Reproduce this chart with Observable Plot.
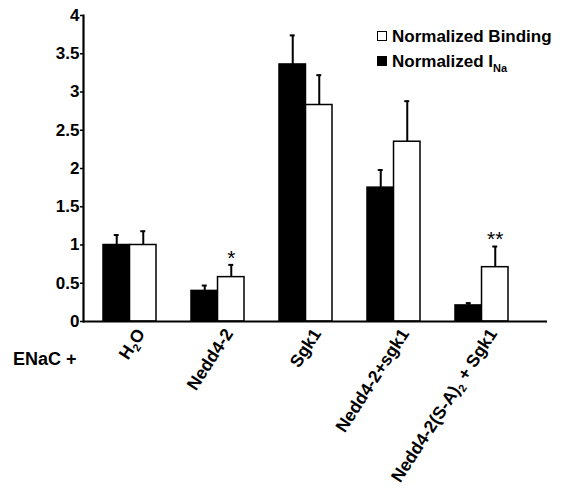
<!DOCTYPE html>
<html>
<head>
<meta charset="utf-8">
<script src="https://cdn.jsdelivr.net/npm/d3@7"></script>
<script src="https://cdn.jsdelivr.net/npm/@observablehq/plot@0.6"></script>
<style>
  body { margin: 0; background: #fff; }
  #wrap { position: relative; width: 568px; height: 494px; font-family: "Liberation Sans", Arial, Helvetica, sans-serif; font-weight: bold; color: #000; }
  #wrap svg { position: absolute; left: 0; top: 0; }
  .legend { position: absolute; left: 377px; top: 24px; font-size: 17px; line-height: 25px; }
  .legend .row { white-space: nowrap; }
  .legend .sw { display: inline-block; width: 8px; height: 8px; border: 1.5px solid #000; margin-right: 5px; vertical-align: 1px; }
  .legend .sub { font-size: 11px; position: relative; top: 5px; }
  .enac { position: absolute; left: 13px; top: 349px; font-size: 18px; white-space: nowrap; }
</style>
</head>
<body>
<div id="wrap">
  <div class="legend">
    <div class="row"><span class="sw" style="background:#fff"></span>Normalized Binding</div>
    <div class="row"><span class="sw" style="background:#000"></span>Normalized I<span class="sub">Na</span></div>
  </div>
  <div class="enac">ENaC +</div>
</div>
<script>
// ---- data ----
const categories = ["H2O", "Nedd4-2", "Sgk1", "Nedd4-2+sgk1", "Nedd4-2(S-A)2 + Sgk1"];
const currentValues = [1.00, 0.40, 3.36, 1.75, 0.21];   // Normalized I_Na (black)
const currentErrors = [0.13, 0.07, 0.38, 0.23, 0.03];
const bindingValues = [1.00, 0.58, 2.83, 2.35, 0.71];   // Normalized Binding (white)
const bindingErrors = [0.18, 0.16, 0.39, 0.53, 0.27];
const significance = ["", "*", "", "", "**"];
const yTicks = [0, 0.5, 1, 1.5, 2, 2.5, 3, 3.5, 4];

const current = categories.map((c, i) => ({cat: c, v: currentValues[i], e: currentErrors[i]}));
const binding = categories.map((c, i) => ({cat: c, v: bindingValues[i], e: bindingErrors[i], s: significance[i]}));

// ---- layout ----
const W = 568, H = 494;
const xRange = [84, 526];
const pInner = 0.4, pOuter = 0.2;
const band = d3.scaleBand().domain(categories).range(xRange).paddingInner(pInner).paddingOuter(pOuter);
const bw = band.bandwidth();
const half = bw / 2, q = bw / 4, cap = 2.5;

const font = '"Liberation Sans", Arial, Helvetica, sans-serif';

const chart = Plot.plot({
  width: W, height: H,
  marginLeft: 83, marginRight: 21, marginTop: 15, marginBottom: 173,
  style: {fontFamily: font, fontWeight: "bold", background: "transparent", overflow: "visible"},
  x: {domain: categories, range: xRange, paddingInner: pInner, paddingOuter: pOuter, label: null},
  y: {domain: [0, 4], label: null},
  marks: [
    // error bars
    Plot.ruleX(current, {x: "cat", y1: "v", y2: d => d.v + d.e, dx: -q, strokeWidth: 2}),
    Plot.tickY(current, {x: "cat", y: d => d.v + d.e, insetLeft: q - cap, insetRight: bw - q - cap, strokeWidth: 2}),
    Plot.ruleX(binding, {x: "cat", y1: "v", y2: d => d.v + d.e, dx: q, strokeWidth: 2}),
    Plot.tickY(binding, {x: "cat", y: d => d.v + d.e, insetLeft: half + q - cap, insetRight: q - cap, strokeWidth: 2}),
    // bars
    Plot.barY(current, {x: "cat", y: "v", insetRight: half, fill: "#000", stroke: "#000", strokeWidth: 1.5}),
    Plot.barY(binding, {x: "cat", y: "v", insetLeft: half, fill: "#fff", stroke: "#000", strokeWidth: 1.5}),
    // significance stars
    Plot.text(binding.filter(d => d.s), {x: "cat", y: d => d.v + d.e, text: "s", dx: q, dy: -7,
      fontSize: 21, fontWeight: "normal", lineAnchor: "middle"}),
    // axes
    Plot.axisY({ticks: yTicks, tickFormat: d => String(d), tickSize: 3, tickPadding: 1,
      fontSize: 17, fontWeight: "bold", strokeWidth: 1.5}),
    Plot.axisX({tickSize: 0, tickRotate: -57, tickPadding: 9, dx: 11, fontSize: 17.5, fontWeight: "bold"}),
    Plot.frame({anchor: "left", strokeWidth: 2.2}),
    Plot.ruleY([0], {strokeWidth: 2.2})
  ]
});

document.getElementById("wrap").prepend(chart);

// subscripts in category labels (H2O, (S-A)2)
d3.select(chart).selectAll("text").each(function() {
  const el = this;
  if (el.querySelector("tspan")) return;
  const s = el.textContent;
  if (!/[H)]2/.test(s)) return;
  const parts = s.split(/(?<=[H)])(2)/);
  el.textContent = "";
  let shifted = false;
  parts.forEach((p, i) => {
    if (!p) return;
    const t = document.createElementNS("http://www.w3.org/2000/svg", "tspan");
    t.textContent = p;
    if (i % 2 === 1) { t.setAttribute("font-size", "11"); t.setAttribute("dy", "4"); shifted = true; }
    else if (shifted) { t.setAttribute("dy", "-4"); shifted = false; }
    el.appendChild(t);
  });
});
</script>
</body>
</html>
